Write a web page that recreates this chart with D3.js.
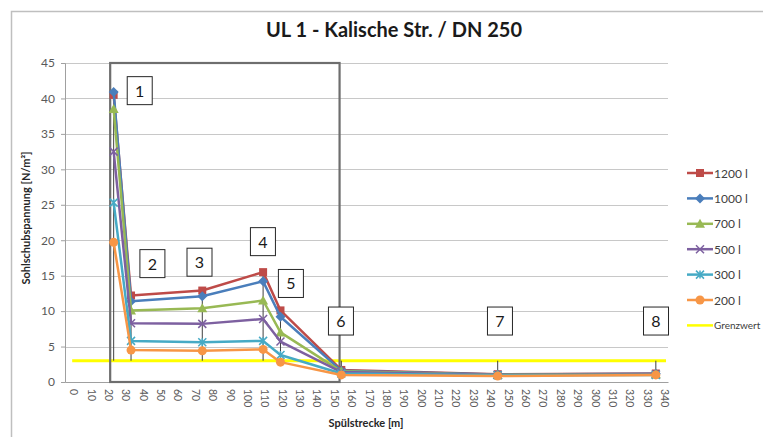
<!DOCTYPE html>
<html><head><meta charset="utf-8">
<script src="https://cdn.jsdelivr.net/npm/d3@7"></script>
<style>body{margin:0;background:#fff;}svg{display:block;font-family:Lato,"Open Sans",sans-serif;}</style>
</head><body>
<svg id="chart" width="763" height="437"></svg>
<script>
// ---- data ----
const xPositions = [23, 33, 74, 109, 119, 154, 244, 335];
const seriesNames = ["1200 l", "1000 l", "700 l", "500 l", "300 l", "200 l"];
const v1200 = [40.5, 12.2, 12.9, 15.5, 10.1, 1.7, 1.1, 1.2];
const v1000 = [40.9, 11.4, 12.1, 14.2, 9.2, 1.6, 1.05, 1.15];
const v700  = [38.5, 10.1, 10.4, 11.5, 7.0, 1.5, 1.0, 1.1];
const v500  = [32.5, 8.3, 8.2, 8.9, 5.7, 1.4, 1.0, 1.05];
const v300  = [25.3, 5.8, 5.6, 5.8, 3.8, 1.2, 0.95, 1.0];
const v200  = [19.7, 4.5, 4.4, 4.6, 2.8, 1.0, 0.85, 1.0];
const grenzName = "Grenzwert";
const grenzX = [0, 340];
const grenzY = [3, 3];
const yTicks = [0, 5, 10, 15, 20, 25, 30, 35, 40, 45];
const xTicks = d3.range(0, 341, 10);
const annoLabels = ["1", "2", "3", "4", "5", "6", "7", "8"];
const annoX = [38, 45.3, 72.4, 108.9, 125, 153.8, 245.3, 335.1];
const annoY = [41.1, 16.7, 16.9, 19.8, 13.9, 8.6, 8.6, 8.6];
const boxX = [21, 153];
const boxY = [0, 45];
const title = "UL 1 - Kalische Str. / DN 250";
const yTitle = "Sohlschubspannung [N/m²]";
const xTitle = "Spülstrecke [m]";

const allValues = [v1200, v1000, v700, v500, v300, v200];
const colors = ["#be4b48", "#4a7ebb", "#98b954", "#7d60a0", "#46aac5", "#f79646"];
const markers = ["square", "diamond", "triangle", "x", "star", "circle"];

// ---- layout ----
const svg = d3.select("#chart");
const x = d3.scaleLinear().domain([-5, 342]).range([65, 668]);
const y = d3.scaleLinear().domain([0, 45]).range([382, 63]);

// outer frame
svg.append("rect").attr("x", 11.5).attr("y", 11.5).attr("width", 800).attr("height", 500)
  .attr("fill", "#fff").attr("stroke", "#bfbfbf").attr("stroke-width", 1.5);

// title
svg.append("text").attr("x", 394).attr("y", 37).attr("text-anchor", "middle")
  .attr("font-size", 20).attr("font-weight", "bold").attr("fill", "#1a1a1a").text(title);

// gridlines
svg.append("g").selectAll("line").data(yTicks.filter(d => d > 0)).join("line")
  .attr("x1", x.range()[0]).attr("x2", x.range()[1])
  .attr("y1", d => Math.round(y(d)) + 0.5).attr("y2", d => Math.round(y(d)) + 0.5)
  .attr("stroke", "#c8c8c8").attr("stroke-width", 1);

// y axis
const yAxis = svg.append("g").attr("transform", `translate(${x.range()[0]},0)`)
  .call(d3.axisLeft(y).tickValues(yTicks).tickSize(4).tickPadding(6));
yAxis.select(".domain").attr("stroke", "#a0a0a0");
yAxis.selectAll(".tick line").attr("stroke", "#a0a0a0");
yAxis.selectAll("text").attr("font-size", 12).attr("fill", "#595959").attr("font-family", "Lato, sans-serif");

// x axis
const xAxis = svg.append("g").attr("transform", `translate(0,${y(0)})`)
  .call(d3.axisBottom(x).tickValues(xTicks).tickSize(0).tickPadding(0));
xAxis.select(".domain").attr("stroke", "#a0a0a0");
xAxis.selectAll("text").attr("font-size", 10.5).attr("fill", "#595959").attr("font-family", "Lato, sans-serif")
  .attr("text-anchor", "start").attr("dy", null).attr("y", 0)
  .attr("transform", "translate(-4,7) rotate(90)");

// axis titles
svg.append("text").attr("transform", "translate(30,218) rotate(-90)").attr("text-anchor", "middle")
  .attr("font-size", 11).attr("font-weight", "bold").attr("fill", "#262626").text(yTitle);
svg.append("text").attr("x", 366).attr("y", 427).attr("text-anchor", "middle")
  .attr("font-size", 11).attr("font-weight", "bold").attr("fill", "#262626").text(xTitle);

// grenzwert line
svg.append("path").datum(grenzX.map((d, i) => [d, grenzY[i]]))
  .attr("d", d3.line().x(d => x(d[0])).y(d => y(d[1])))
  .attr("stroke", "#ffff00").attr("stroke-width", 3).attr("fill", "none").attr("stroke-linecap", "square");

// high-low lines
const hl = svg.append("g");
xPositions.forEach((xv, i) => {
  const vals = allValues.map(s => s[i]).concat([grenzY[0]]);
  hl.append("line").attr("x1", x(xv)).attr("x2", x(xv))
    .attr("y1", y(d3.min(vals))).attr("y2", y(d3.max(vals)))
    .attr("stroke", "#404040").attr("stroke-width", 1);
});

// annotation big box
svg.append("rect").attr("x", x(boxX[0])).attr("y", y(boxY[1]))
  .attr("width", x(boxX[1]) - x(boxX[0])).attr("height", y(boxY[0]) - y(boxY[1]))
  .attr("fill", "none").attr("stroke", "#6e6e6e").attr("stroke-width", 2.2);

function markerPath(type, cx, cy) {
  const s = 4;
  switch (type) {
    case "square": return `M${cx-s},${cy-s}h${2*s}v${2*s}h${-2*s}Z`;
    case "diamond": return `M${cx},${cy-s-1}L${cx+s+1},${cy}L${cx},${cy+s+1}L${cx-s-1},${cy}Z`;
    case "triangle": return `M${cx},${cy-s-1}L${cx+s+1},${cy+s}L${cx-s-1},${cy+s}Z`;
    case "x": return `M${cx-s},${cy-s}L${cx+s},${cy+s}M${cx-s},${cy+s}L${cx+s},${cy-s}`;
    case "star": return `M${cx-s},${cy-s}L${cx+s},${cy+s}M${cx-s},${cy+s}L${cx+s},${cy-s}M${cx},${cy-s}L${cx},${cy+s}`;
    default: return "";
  }
}
function drawMarker(g, type, cx, cy, color) {
  if (type === "circle") {
    g.append("circle").attr("cx", cx).attr("cy", cy).attr("r", 4.5).attr("fill", color);
  } else if (type === "x" || type === "star") {
    g.append("path").attr("d", markerPath(type, cx, cy)).attr("stroke", color).attr("stroke-width", 1.5).attr("fill", "none");
  } else {
    g.append("path").attr("d", markerPath(type, cx, cy)).attr("fill", color);
  }
}

// series
const line = d3.line().x(d => x(d[0])).y(d => y(d[1]));
allValues.forEach((vals, si) => {
  const g = svg.append("g");
  const pts = xPositions.map((xv, i) => [xv, vals[i]]);
  g.append("path").datum(pts).attr("d", line).attr("fill", "none")
    .attr("stroke", colors[si]).attr("stroke-width", 2.5).attr("stroke-linejoin", "round");
  pts.forEach(p => drawMarker(g, markers[si], x(p[0]), y(p[1]), colors[si]));
});

// numbered annotation boxes
annoLabels.forEach((lab, i) => {
  const cx = x(annoX[i]), cy = y(annoY[i]);
  svg.append("rect").attr("x", cx - 12.5).attr("y", cy - 14).attr("width", 25).attr("height", 28)
    .attr("fill", "#fff").attr("stroke", "#262626").attr("stroke-width", 1);
  svg.append("text").attr("x", cx).attr("y", cy + 6).attr("text-anchor", "middle")
    .attr("font-size", 16).attr("fill", "#1a1a1a").text(lab);
});

// legend
const legNames = seriesNames.concat([grenzName]);
const legColors = colors.concat(["#ffff00"]);
legNames.forEach((name, i) => {
  const ly = 173 + i * 25.4;
  const g = svg.append("g");
  g.append("line").attr("x1", 687).attr("x2", 713).attr("y1", ly).attr("y2", ly)
    .attr("stroke", legColors[i]).attr("stroke-width", 2.5);
  if (i < markers.length) drawMarker(g, markers[i], 700, ly, legColors[i]);
  const t = g.append("text").attr("x", 714).attr("y", ly + 4.5).attr("font-size", 12)
    .attr("fill", "#404040").text(name);
  if (name === grenzName) t.attr("font-size", 10).attr("y", ly + 4);
});
</script>
</body></html>
